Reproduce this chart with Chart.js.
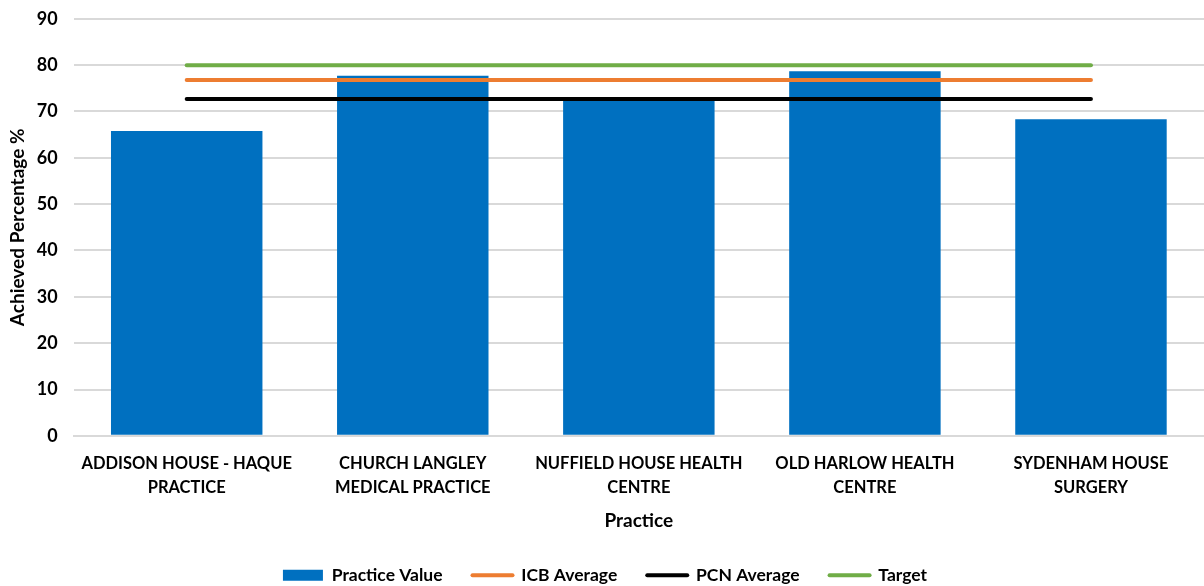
<!DOCTYPE html>
<html>
<head>
<meta charset="utf-8">
<script src="https://cdn.jsdelivr.net/npm/chart.js@4.4.1/dist/chart.umd.min.js"></script>
<style>
  html, body { margin: 0; padding: 0; background: #fff; overflow: hidden; }
  #wrap { width: 1204px; height: 594px; position: relative; margin-top: -8px; }
</style>
</head>
<body>
<div id="wrap"><canvas id="chart"></canvas></div>
<script>
// practice names, split across two lines like the original
const practices = [
  ['ADDISON HOUSE - HAQUE', 'PRACTICE'],
  ['CHURCH LANGLEY', 'MEDICAL PRACTICE'],
  ['NUFFIELD HOUSE HEALTH', 'CENTRE'],
  ['OLD HARLOW HEALTH', 'CENTRE'],
  ['SYDENHAM HOUSE', 'SURGERY']
];
const practiceValues = [65.8, 77.7, 72.6, 78.7, 68.3];
const icbAverage = [76.8, 76.8, 76.8, 76.8, 76.8];
const pcnAverage = [72.7, 72.7, 72.7, 72.7, 72.7];
const target = [80, 80, 80, 80, 80];

const FONT = 'Lato, "Open Sans", sans-serif';
Chart.defaults.font.family = FONT;
Chart.defaults.color = '#000';

function lineSet(label, data, color, order) {
  return {
    type: 'line',
    label: label,
    data: data,
    borderColor: color,
    backgroundColor: color,
    borderWidth: 4,
    borderCapStyle: 'round',
    pointRadius: 0,
    pointHoverRadius: 0,
    fill: false,
    order: order
  };
}

new Chart(document.getElementById('chart'), {
  type: 'bar',
  data: {
    labels: practices,
    datasets: [
      {
        label: 'Practice Value',
        data: practiceValues,
        backgroundColor: '#0070c0',
        barPercentage: 0.67,
        categoryPercentage: 1,
        order: 4
      },
      lineSet('ICB Average', icbAverage, '#ed7d31', 2),
      lineSet('PCN Average', pcnAverage, '#000000', 3),
      lineSet('Target', target, '#70ad47', 1)
    ]
  },
  options: {
    responsive: true,
    maintainAspectRatio: false,
    animation: false,
    layout: { padding: { top: 0, right: 0, left: 6, bottom: -8 } },
    scales: {
      x: {
        grid: { display: false },
        border: { color: '#d9d9d9', width: 2 },
        ticks: { font: { size: 16.5, weight: 'bold', lineHeight: 1.45 }, maxRotation: 0, autoSkip: false, padding: 8 },
        title: { display: true, text: 'Practice', font: { size: 19, weight: 'bold' }, padding: { top: 2, bottom: 4 } }
      },
      y: {
        min: 0,
        max: 90,
        ticks: { stepSize: 10, font: { size: 18, weight: 'bold' }, padding: 16 },
        grid: { color: '#d9d9d9', lineWidth: 2, drawTicks: false },
        border: { display: false },
        title: { display: true, text: 'Achieved Percentage %', font: { size: 19, weight: 'bold' }, padding: { top: 0, bottom: -8 } }
      }
    },
    plugins: {
      tooltip: { enabled: false },
      legend: {
        position: 'bottom',
        labels: {
          font: { size: 17.5, weight: 'bold' },
          usePointStyle: true,
          pointStyleWidth: 40,
          boxHeight: 11,
          padding: 30,
          sort: (a, b) => a.datasetIndex - b.datasetIndex,
          generateLabels: chart => {
            const items = Chart.defaults.plugins.legend.labels.generateLabels(chart);
            items.forEach(it => {
              const ds = chart.data.datasets[it.datasetIndex];
              if (ds.type === 'line') {
                it.pointStyle = 'line';
                it.lineWidth = 4;
                it.lineCap = 'round';
                it.strokeStyle = ds.borderColor;
              } else {
                it.pointStyle = 'rect';
                it.lineWidth = 0;
              }
            });
            return items;
          }
        }
      }
    }
  }
});
</script>
</body>
</html>
